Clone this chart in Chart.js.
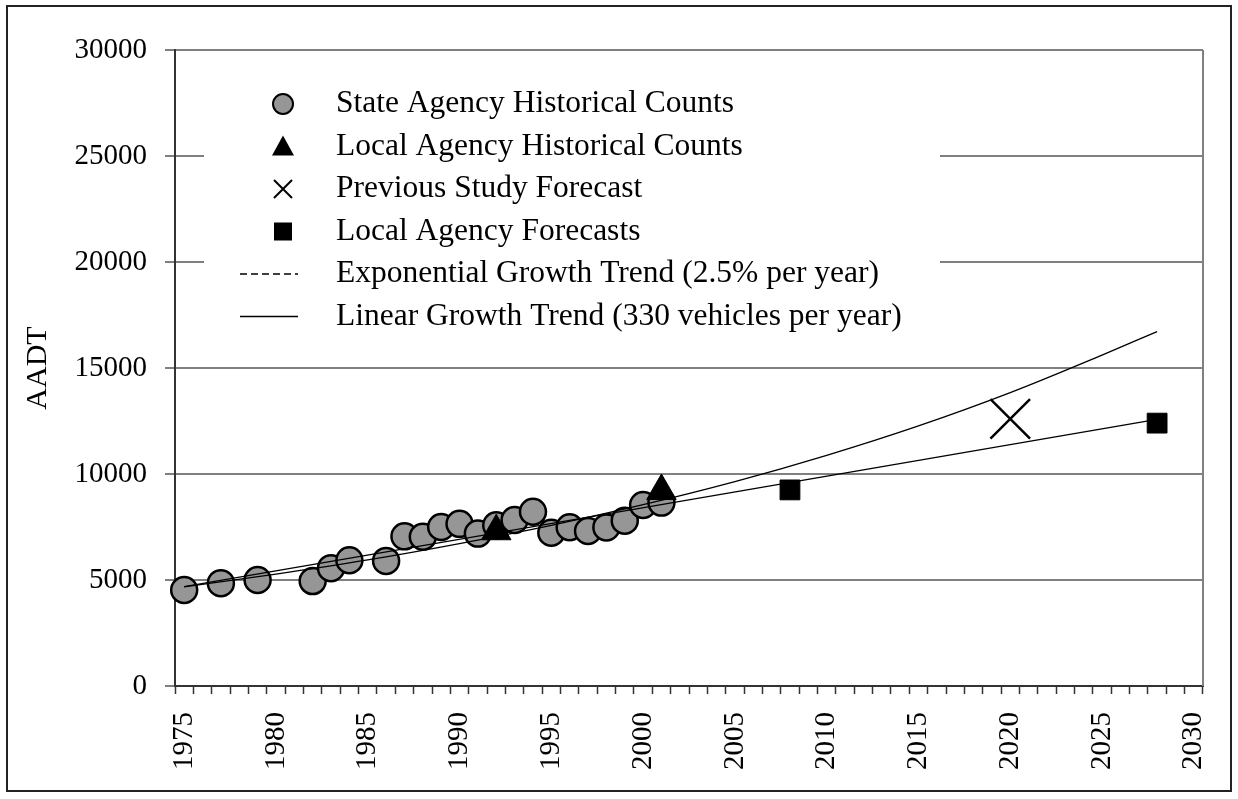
<!DOCTYPE html>
<html>
<head>
<meta charset="utf-8">
<title>AADT Growth Trends</title>
<script src="https://cdn.jsdelivr.net/npm/chart.js@4.4.1/dist/chart.umd.min.js"></script>
<style>
    html, body { margin: 0; padding: 0; background: #fff; }
    #wrap { width: 1238px; height: 799px; }
</style>
</head>
<body>
<div id="wrap"><canvas id="aadtChart" width="1238" height="799"></canvas></div>
<script>
// ==============================================
// DATA
// ==============================================
const years = [
    '1975', '1976', '1977', '1978', '1979', '1980', '1981', '1982', '1983', '1984',
    '1985', '1986', '1987', '1988', '1989', '1990', '1991', '1992', '1993', '1994',
    '1995', '1996', '1997', '1998', '1999', '2000', '2001', '2002', '2003', '2004',
    '2005', '2006', '2007', '2008', '2009', '2010', '2011', '2012', '2013', '2014',
    '2015', '2016', '2017', '2018', '2019', '2020', '2021', '2022', '2023', '2024',
    '2025', '2026', '2027', '2028', '2029', '2030'
];
const yTicks = [0, 5000, 10000, 15000, 20000, 25000, 30000];

// State Agency Historical Counts
const stateYears = ['1975', '1977', '1979', '1982', '1983', '1984', '1986', '1987', '1988', '1989', '1990',
    '1991', '1992', '1993', '1994', '1995', '1996', '1997', '1998', '1999', '2000', '2001'];
const stateCounts = [4530, 4850, 5000, 4950, 5560, 5930, 5900, 7060, 7040, 7500, 7650,
    7190, 7580, 7830, 8220, 7230, 7490, 7310, 7480, 7800, 8540, 8650];

// Local Agency Historical Counts
const localHistYears = ['1992', '2001'];
const localHistCounts = [7300, 9200];

// Previous Study Forecast
const prevStudyYears = ['2020'];
const prevStudyForecast = [12600];

// Local Agency Forecasts
const localFcstYears = ['2008', '2028'];
const localFcstValues = [9250, 12400];

// Trend lines
const expTrendYears = ['1975', '1980', '1985', '1990', '1995', '2000', '2005', '2010', '2015', '2020', '2025', '2028'];
const expTrendValues = [4680, 5280, 5950, 6720, 7580, 8550, 9640, 10880, 12270, 13840, 15610, 16720];
const linTrendYears = ['1975', '2028'];
const linTrendValues = [4690, 12580];

const legendLabels = [
    'State Agency Historical Counts',
    'Local Agency Historical Counts',
    'Previous Study Forecast',
    'Local Agency Forecasts',
    'Exponential Growth Trend (2.5% per year)',
    'Linear Growth Trend (330 vehicles per year)'
];

const SERIF = "'Liberation Serif', 'Times New Roman', serif";

function pairs(xs, ys) {
    return xs.map((x, i) => ({ x: x, y: ys[i] }));
}

// ==============================================
// PLUGINS - frame and in-plot legend
// ==============================================
const framePlugin = {
    id: 'frame',
    beforeDraw(chart) {
        const ctx = chart.ctx;
        ctx.save();
        ctx.fillStyle = '#fff';
        ctx.fillRect(0, 0, chart.width, chart.height);
        ctx.strokeStyle = '#222';
        ctx.lineWidth = 2;
        ctx.strokeRect(7, 6, 1224, 785);
        ctx.restore();
    },
    afterDraw(chart) {
        // right edge of the plot area
        const ctx = chart.ctx;
        const a = chart.chartArea;
        ctx.save();
        ctx.strokeStyle = '#808080';
        ctx.lineWidth = 2;
        ctx.beginPath();
        ctx.moveTo(a.right, a.top);
        ctx.lineTo(a.right, a.bottom);
        ctx.stroke();
        ctx.restore();
    }
};

const legendPlugin = {
    id: 'boxLegend',
    afterDraw(chart) {
        const ctx = chart.ctx;
        const mx = 283, tx = 336;
        const rows = [104, 146.5, 189, 231.5, 274, 316.5];
        ctx.save();
        ctx.fillStyle = '#fff';
        ctx.fillRect(204, 78, 736, 262);

        // circle
        ctx.beginPath();
        ctx.arc(mx, rows[0], 10, 0, Math.PI * 2);
        ctx.fillStyle = '#969696';
        ctx.fill();
        ctx.strokeStyle = '#000';
        ctx.lineWidth = 2;
        ctx.stroke();

        // triangle
        ctx.beginPath();
        ctx.moveTo(mx, rows[1] - 11);
        ctx.lineTo(mx + 11, rows[1] + 9);
        ctx.lineTo(mx - 11, rows[1] + 9);
        ctx.closePath();
        ctx.fillStyle = '#000';
        ctx.fill();

        // cross
        ctx.beginPath();
        ctx.moveTo(mx - 9, rows[2] - 9);
        ctx.lineTo(mx + 9, rows[2] + 9);
        ctx.moveTo(mx + 9, rows[2] - 9);
        ctx.lineTo(mx - 9, rows[2] + 9);
        ctx.lineWidth = 2;
        ctx.stroke();

        // square
        ctx.fillRect(mx - 9, rows[3] - 9, 18, 18);

        // dashed and solid line keys
        ctx.lineWidth = 1.3;
        ctx.setLineDash([7, 4]);
        ctx.beginPath();
        ctx.moveTo(240, rows[4]);
        ctx.lineTo(298, rows[4]);
        ctx.stroke();
        ctx.setLineDash([]);
        ctx.beginPath();
        ctx.moveTo(240, rows[5]);
        ctx.lineTo(298, rows[5]);
        ctx.stroke();

        ctx.font = '31.5px ' + SERIF;
        ctx.fillStyle = '#000';
        ctx.textBaseline = 'middle';
        ctx.textAlign = 'left';
        legendLabels.forEach((t, i) => ctx.fillText(t, tx, rows[i]));
        ctx.restore();
    }
};

// ==============================================
// CHART
// ==============================================
Chart.defaults.font.family = SERIF;
Chart.defaults.color = '#000';

const ctx = document.getElementById('aadtChart');
new Chart(ctx, {
    type: 'line',
    data: {
        labels: years,
        datasets: [
            {
                label: legendLabels[0],
                data: pairs(stateYears, stateCounts),
                showLine: false,
                pointStyle: 'circle',
                pointRadius: 13,
                pointBackgroundColor: '#969696',
                pointBorderColor: '#000',
                pointBorderWidth: 2.5,
                order: 6
            },
            {
                label: legendLabels[4],
                data: pairs(expTrendYears, expTrendValues),
                borderColor: '#000',
                borderWidth: 1.3,
                pointRadius: 0,
                cubicInterpolationMode: 'monotone',
                order: 5
            },
            {
                label: legendLabels[5],
                data: pairs(linTrendYears, linTrendValues),
                borderColor: '#000',
                borderWidth: 1.3,
                pointRadius: 0,
                order: 4
            },
            {
                label: legendLabels[1],
                data: pairs(localHistYears, localHistCounts),
                showLine: false,
                pointStyle: 'triangle',
                pointRadius: 17,
                pointBackgroundColor: '#000',
                pointBorderColor: '#000',
                pointBorderWidth: 1,
                order: 3
            },
            {
                label: legendLabels[2],
                data: pairs(prevStudyYears, prevStudyForecast),
                showLine: false,
                pointStyle: 'crossRot',
                pointRadius: 28,
                pointBorderColor: '#000',
                pointBorderWidth: 2.5,
                order: 2
            },
            {
                label: legendLabels[3],
                data: pairs(localFcstYears, localFcstValues),
                showLine: false,
                pointStyle: 'rect',
                pointRadius: 14,
                pointBackgroundColor: '#000',
                pointBorderColor: '#000',
                pointBorderWidth: 1,
                order: 1
            }
        ]
    },
    options: {
        responsive: false,
        animation: false,
        events: [],
        layout: { padding: { left: 0, right: 35, top: 50, bottom: 0 } },
        plugins: {
            legend: { display: false },
            tooltip: { enabled: false }
        },
        scales: {
            x: {
                type: 'category',
                offset: true,
                grid: {
                    offset: true,
                    drawOnChartArea: false,
                    drawTicks: true,
                    tickLength: 8,
                    tickColor: '#333',
                    tickWidth: 1.5
                },
                border: { display: true, color: '#333', width: 2 },
                ticks: {
                    autoSkip: false,
                    maxRotation: 90,
                    minRotation: 90,
                    padding: 18,
                    color: '#000',
                    font: { family: SERIF, size: 29 },
                    callback: function(val, i) {
                        return i % 5 === 0 ? this.getLabelForValue(val) : '';
                    }
                },
                afterFit: function(scale) {
                    scale.height = 113;
                    scale.paddingLeft = 0;
                    scale.paddingRight = 0;
                }
            },
            y: {
                min: 0,
                max: 30000,
                afterBuildTicks: function(scale) {
                    scale.ticks = yTicks.map(v => ({ value: v }));
                },
                grid: {
                    color: '#808080',
                    lineWidth: 2,
                    tickLength: 10,
                    tickColor: '#555',
                    tickWidth: 1.5
                },
                border: { display: true, color: '#333', width: 2 },
                ticks: {
                    padding: 18,
                    color: '#000',
                    font: { family: SERIF, size: 29 },
                    callback: v => String(v)
                },
                title: {
                    display: true,
                    text: 'AADT',
                    color: '#000',
                    font: { family: SERIF, size: 30 },
                    padding: { top: 20, bottom: 0 }
                },
                afterFit: function(scale) { scale.width = 175; }
            }
        }
    },
    plugins: [framePlugin, legendPlugin]
});
</script>
</body>
</html>
